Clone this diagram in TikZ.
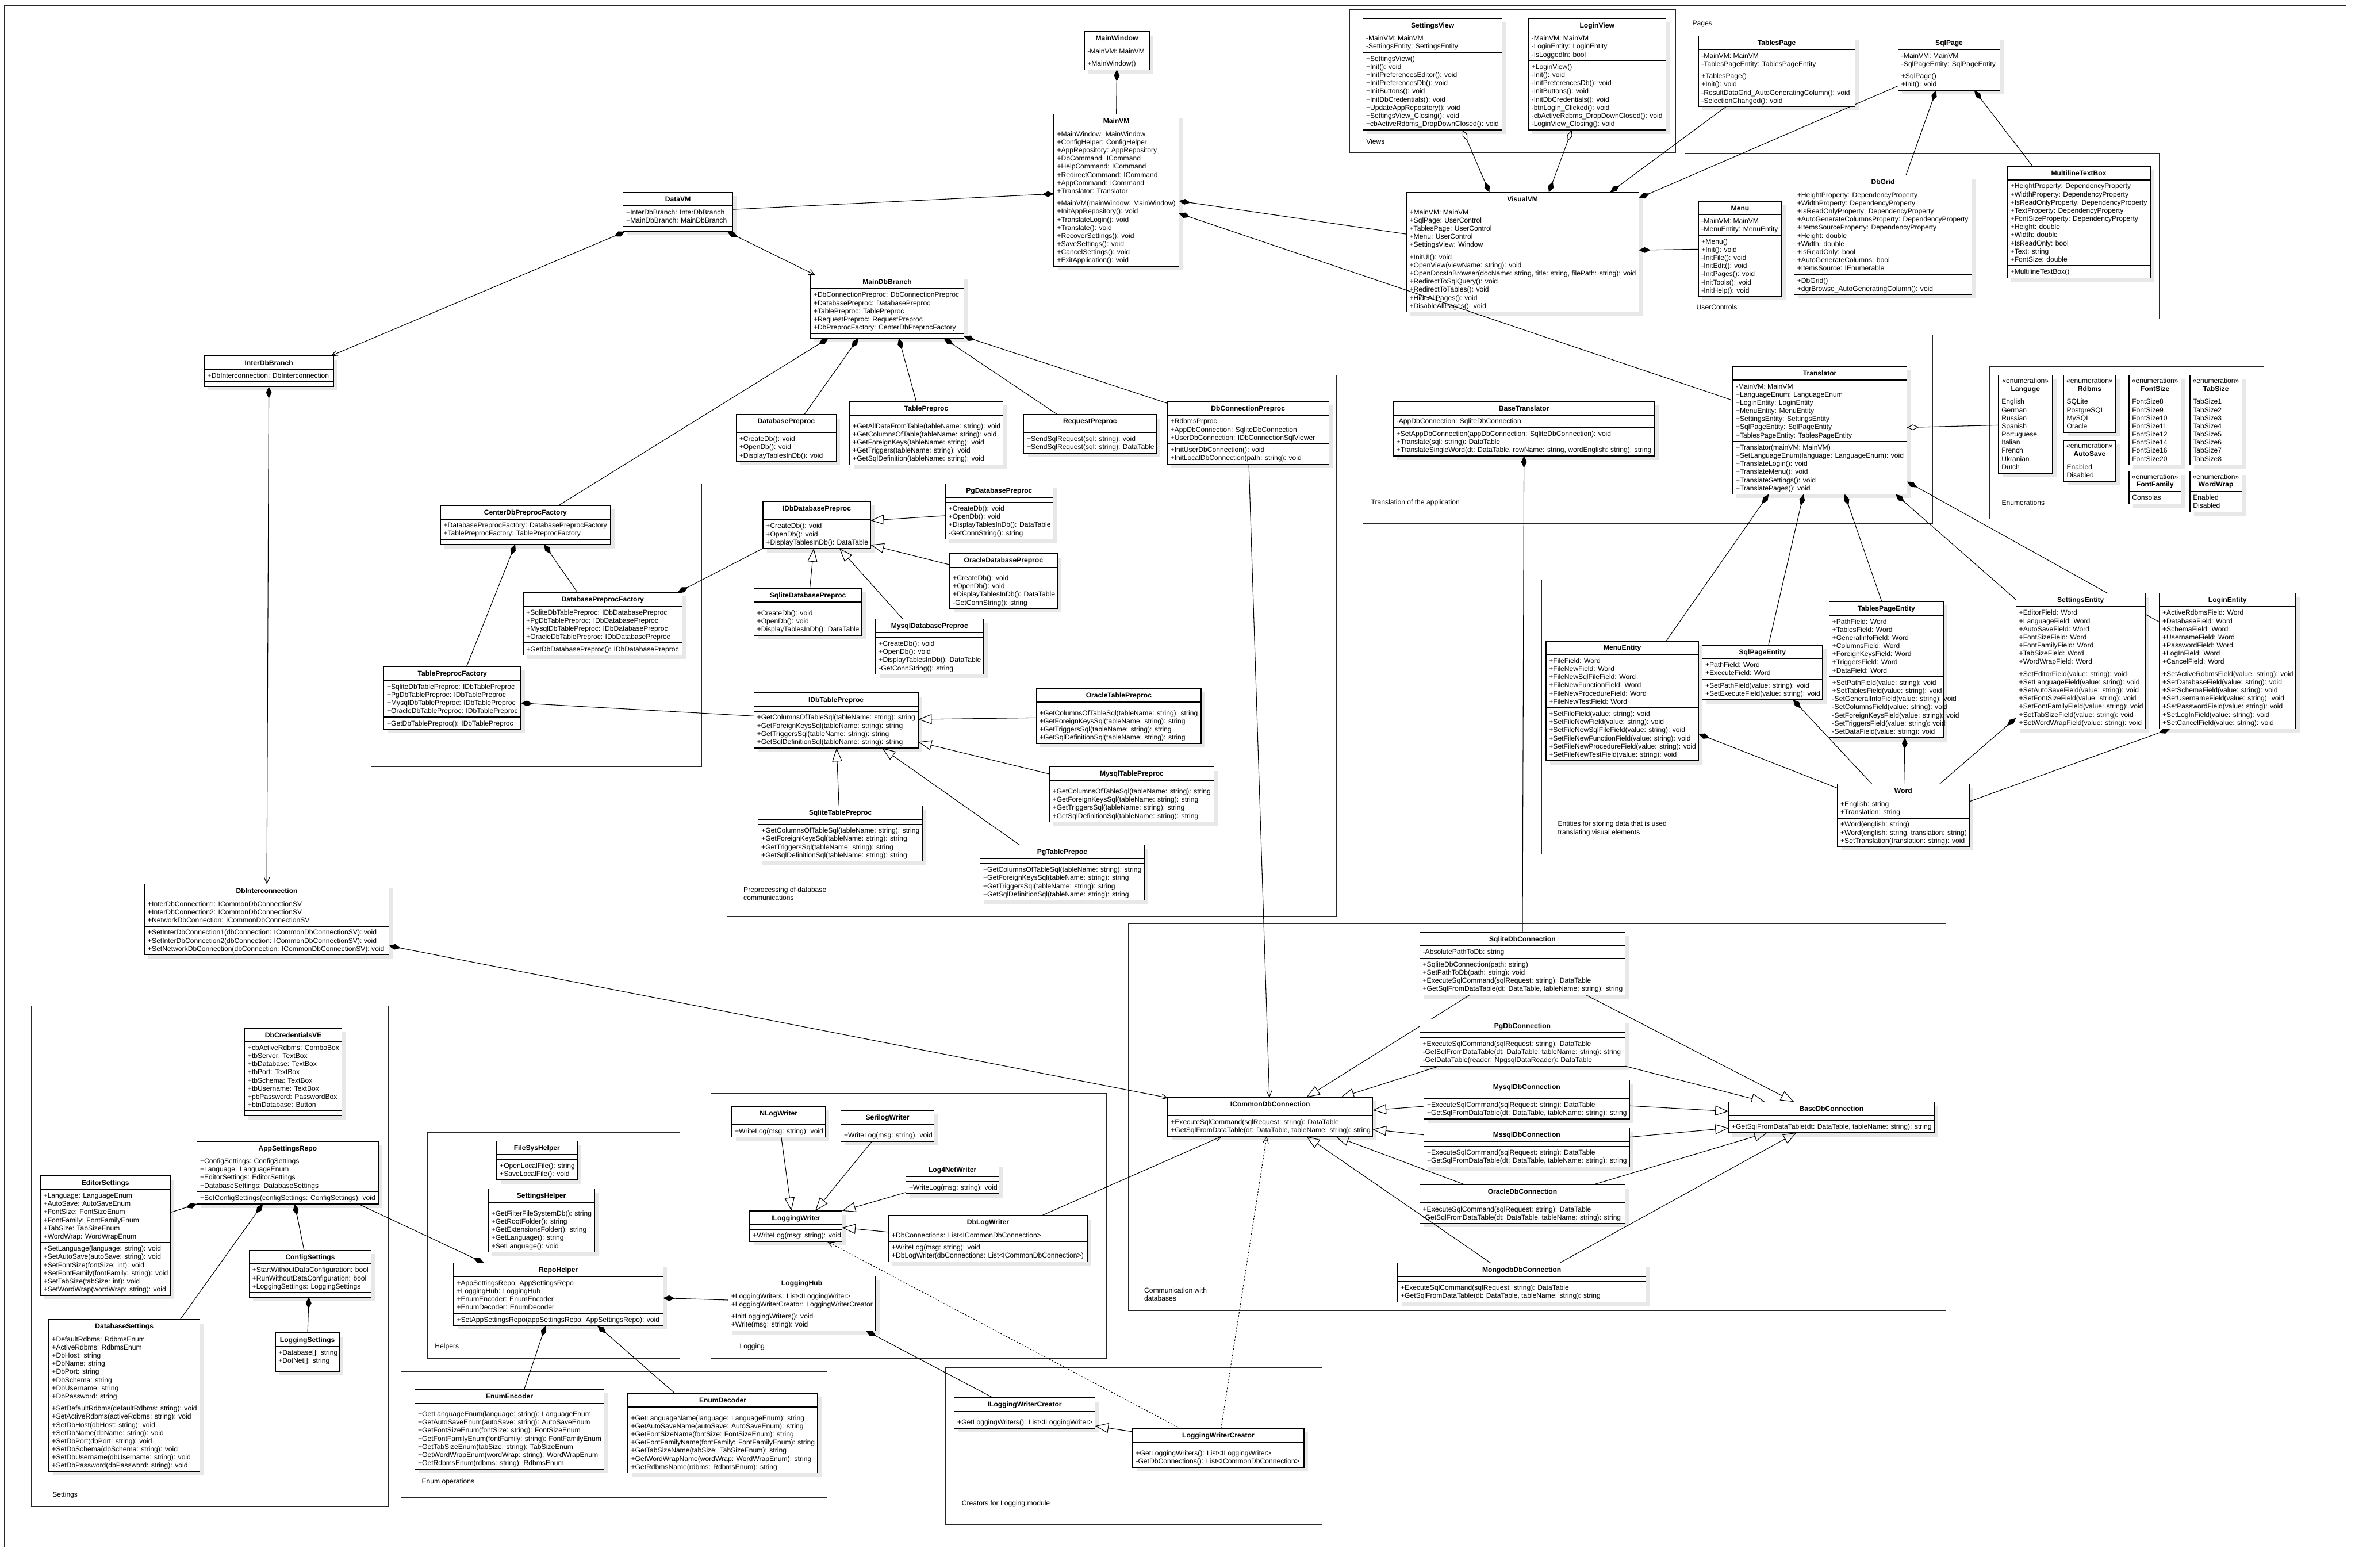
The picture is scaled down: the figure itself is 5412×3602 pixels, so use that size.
\documentclass[tikz,border=0pt]{standalone}
\usepackage{fontspec}
\setmainfont{Liberation Sans}
\usetikzlibrary{arrows.meta,calc}
\pgfdeclarelayer{frames}\pgfdeclarelayer{shadow}\pgfdeclarelayer{lines}\pgfdeclarelayer{fg}
\pgfsetlayers{frames,shadow,lines,main,fg}
\newcommand\clsfont{\fontsize{4.55}{5.32}\selectfont}
\newcommand\clsbold{\fontsize{4.55}{5.32}\selectfont\bfseries}
\tikzset{
  clsbox/.style={draw, line width=0.5pt, fill=white, inner sep=0pt, outer sep=0pt},
  sepline/.style={line width=0.5pt},
  shadowc/.style={fill=black!9},
  clstext/.style={anchor=north west, inner sep=0pt, align=left, font=\clsfont},
  lbl/.style={anchor=west, inner sep=0pt, align=left, font=\clsfont},
  frame/.style={draw=black!85, line width=0.4pt},
  conn/.style={line width=0.4pt},
  comp/.style={conn,-{Diamond[length=7.7pt,width=3.7pt]}},
  compnav/.style={conn,{Straight Barb[length=4pt,width=3.6pt]}-{Diamond[length=7.7pt,width=3.7pt]}},
  aggcomp/.style={conn,{Diamond[open,length=7.7pt,width=3.4pt]}-{Diamond[length=7.7pt,width=3.7pt]}},
  agg/.style={conn,-{Diamond[open,length=7.7pt,width=3.7pt]}},
  inh/.style={conn,-{Triangle[open,length=8.8pt,width=6.5pt]}},
  nav/.style={conn,-{Straight Barb[length=4pt,width=3.6pt]}},
  dep/.style={conn,dash pattern=on 1pt off 1pt,-{Straight Barb[length=4pt,width=3.6pt]}}
}
% #1 name #2 x #3 y #4 width #5 title #6 nAttr #7 attrs #8 nMeth #9 methods
\newcommand\cls[9]{%
  \pgfmathsetmacro\clsA{ifthenelse(#6==0,11,#6*18.7+9.6)}%
  \pgfmathsetmacro\clsM{ifthenelse(#8==0,11,#8*18.7+9.6)}%
  \pgfmathsetmacro\clsH{31.2+\clsA+\clsM}%
  \begin{pgfonlayer}{shadow}\fill[shadowc] (#2+9,#3+9) rectangle ++(#4,\clsH);\end{pgfonlayer}%
  \node[clsbox, minimum width=#4*0.01cm, minimum height=\clsH*0.01cm, anchor=north west] (#1) at (#2,#3) {};%
  \draw[sepline] (#2,#3+31.2) -- ++(#4,0) (#2,#3+31.2+\clsA) -- ++(#4,0);%
  \node[anchor=base, inner sep=0pt, font=\clsbold] at (#2+#4/2,#3+21.3) {#5};%
  \ifnum#6>0 \node[clstext] at (#2+6.5,#3+31.2+6) {\strut #7};\fi
  \ifnum#8>0 \node[clstext] at (#2+6.5,#3+31.2+\clsA+6) {\strut #9};\fi
}
% enumeration: #1 name #2 x #3 y #4 w #5 title #6 n #7 values
\newcommand\enm[7]{%
  \pgfmathsetmacro\clsH{47.2+#6*18.7+9.6}%
  \begin{pgfonlayer}{shadow}\fill[shadowc] (#2+9,#3+9) rectangle ++(#4,\clsH);\end{pgfonlayer}%
  \node[clsbox, minimum width=#4*0.01cm, minimum height=\clsH*0.01cm, anchor=north west] (#1) at (#2,#3) {};%
  \draw[sepline] (#2,#3+47.2) -- ++(#4,0);%
  \node[anchor=base, inner sep=0pt, font=\clsfont] at (#2+#4/2,#3+18.3) {«enumeration»};%
  \node[anchor=base, inner sep=0pt, font=\clsbold] at (#2+#4/2,#3+36.5) {#5};%
  \node[clstext] at (#2+6.5,#3+47.2+5.5) {\strut #7};
}
\begin{document}
\begin{tikzpicture}[x=0.01cm,y=-0.01cm]
\useasboundingbox (0,0) rectangle (5412,3602);
\begin{pgfonlayer}{frames}
\fill[white] (0,0) rectangle (5412,3602);
\draw[frame] (10,12) rectangle (5392,3555);
\draw[frame] (3101.8,22.2) rectangle (3851,350.6);
\draw[frame] (3872.2,32.1) rectangle (4641.7,261.9);
\draw[frame] (3872.2,351.6) rectangle (4962.4,732.4);
\draw[frame] (3132,770) rectangle (4441.6,1202.7);
\draw[frame] (4572.1,842.2) rectangle (5202.8,1192.4);
\draw[frame] (3543,1332.2) rectangle (5292,1962.3);
\draw[frame] (1670.9,862.4) rectangle (3071,2106);
\draw[frame] (852.3,1112) rectangle (1612.5,1761.5);
\draw[frame] (2592.4,2122) rectangle (4471.8,3011.6);
\draw[frame] (72.7,2311.7) rectangle (892.4,3462);
\draw[frame] (982.3,2602.3) rectangle (1562.3,3122);
\draw[frame] (1633.6,2512.5) rectangle (2542.7,3122);
\draw[frame] (921.9,3152) rectangle (1901,3441.4);
\draw[frame] (2172.4,3142.2) rectangle (3038,3503);
\node[lbl] at (3139,325) {Views};
\node[lbl] at (3888.6,55.2) {Pages};
\node[lbl] at (3898,705.5) {UserControls};
\node[lbl] at (3150,1155.7) {Translation of the application};
\node[lbl] at (4599.3,1155.4) {Enumerations};
\node[lbl] at (3579.5,1903.7) {Entities for storing data that is used\\translating visual elements};
\node[lbl] at (1708,2053.6) {Preprocessing of database\\communications};
\node[lbl] at (2628.8,2974) {Communication with\\databases};
\node[lbl] at (119.9,3435.3) {Settings};
\node[lbl] at (998.7,3095.4) {Helpers};
\node[lbl] at (1699.4,3095.4) {Logging};
\node[lbl] at (968.6,3405.7) {Enum operations};
\node[lbl] at (2209.5,3455.7) {Creators for Logging module};
\end{pgfonlayer}

% ---------- top middle
\cls{mainwindow}{2491.7}{72.3}{149.8}{MainWindow}{1}{-MainVM: MainVM}{1}{+MainWindow()}
\cls{mainvm}{2422}{262.4}{287}{MainVM}{8}{+MainWindow: MainWindow\\+ConfigHelper: ConfigHelper\\+AppRepository: AppRepository\\+DbCommand: ICommand\\+HelpCommand: ICommand\\+RedirectCommand: ICommand\\+AppCommand: ICommand\\+Translator: Translator}{8}{+MainVM(mainWindow: MainWindow)\\+InitAppRepository(): void\\+TranslateLogin(): void\\+Translate(): void\\+RecoverSettings(): void\\+SaveSettings(): void\\+CancelSettings(): void\\+ExitApplication(): void}
\cls{datavm}{1431.9}{441.9}{252.2}{DataVM}{2}{+InterDbBranch: InterDbBranch\\+MainDbBranch: MainDbBranch}{0}{}
\cls{maindbbranch}{1862.3}{632}{353}{MainDbBranch}{5}{+DbConnectionPreproc: DbConnectionPreproc\\+DatabasePreproc: DatabasePreproc\\+TablePreproc: TablePreproc\\+RequestPreproc: RequestPreproc\\+DbPreprocFactory: CenterDbPreprocFactory}{0}{}
\cls{interdbbranch}{469.4}{818}{296.9}{InterDbBranch}{1}{+DbInterconnection: DbInterconnection}{0}{}

% ---------- views, pages, user controls
\cls{settingsview}{3132.2}{42.5}{319.8}{SettingsView}{2}{-MainVM: MainVM\\-SettingsEntity: SettingsEntity}{9}{+SettingsView()\\+Init(): void\\+InitPreferencesEditor(): void\\+InitPreferencesDb(): void\\+InitButtons(): void\\+InitDbCredentials(): void\\+UpdateAppRepository(): void\\+SettingsView\_Closing(): void\\+cbActiveRdbms\_DropDownClosed(): void}
\cls{loginview}{3512.3}{42.5}{315.7}{LoginView}{3}{-MainVM: MainVM\\-LoginEntity: LoginEntity\\-IsLoggedIn: bool}{8}{+LoginView()\\-Init(): void\\-InitPreferencesDb(): void\\-InitButtons(): void\\-InitDbCredentials(): void\\-btnLogIn\_Clicked(): void\\-cbActiveRdbms\_DropDownClosed(): void\\-LoginView\_Closing(): void}
\cls{visualvm}{3232.1}{442.2}{533.9}{VisualVM}{5}{+MainVM: MainVM\\+SqlPage: UserControl\\+TablesPage: UserControl\\+Menu: UserControl\\+SettingsView: Window}{7}{+InitUI(): void\\+OpenView(viewName: string): void\\+OpenDocsInBrowser(docName: string, title: string, filePath: string): void\\+RedirectToSqlQuery(): void\\+RedirectToTables(): void\\+HideAllPages(): void\\+DisableAllPages(): void}
\cls{tablespage}{3903}{82.6}{359.7}{TablesPage}{2}{-MainVM: MainVM\\-TablesPageEntity: TablesPageEntity}{4}{+TablesPage()\\+Init(): void\\-ResultDataGrid\_AutoGeneratingColumn(): void\\-SelectionChanged(): void}
\cls{sqlpage}{4362.1}{82.6}{234.2}{SqlPage}{2}{-MainVM: MainVM\\-SqlPageEntity: SqlPageEntity}{2}{+SqlPage()\\+Init(): void}
\cls{menu}{3903}{462.5}{191.8}{Menu}{2}{-MainVM: MainVM\\-MenuEntity: MenuEntity}{7}{+Menu()\\+Init(): void\\-InitFile(): void\\-InitEdit(): void\\-InitPages(): void\\-InitTools(): void\\-InitHelp(): void}
\cls{dbgrid}{4122.9}{402.5}{408.6}{DbGrid}{10}{+HeightProperty: DependencyProperty\\+WidthProperty: DependencyProperty\\+IsReadOnlyProperty: DependencyProperty\\+AutoGenerateColumnsProperty: DependencyProperty\\+ItemsSourceProperty: DependencyProperty\\+Height: double\\+Width: double\\+IsReadOnly: bool\\+AutoGenerateColumns: bool\\+ItemsSource: IEnumerable}{2}{+DbGrid()\\+dgrBrowse\_AutoGeneratingColumn(): void}
\cls{multiline}{4612.9}{382.3}{328.6}{MultilineTextBox}{10}{+HeightProperty: DependencyProperty\\+WidthProperty: DependencyProperty\\+IsReadOnlyProperty: DependencyProperty\\+TextProperty: DependencyProperty\\+FontSizeProperty: DependencyProperty\\+Height: double\\+Width: double\\+IsReadOnly: bool\\+Text: string\\+FontSize: double}{1}{+MultilineTextBox()}

% ---------- translation
\cls{translator}{3981.8}{842.3}{400.4}{Translator}{7}{-MainVM: MainVM\\+LanguageEnum: LanguageEnum\\+LoginEntity: LoginEntity\\+MenuEntity: MenuEntity\\+SettingsEntity: SettingsEntity\\+SqlPageEntity: SqlPageEntity\\+TablesPageEntity: TablesPageEntity}{6}{+Translator(mainVM: MainVM)\\+SetLanguageEnum(language: LanguageEnum): void\\+TranslateLogin(): void\\+TranslateMenu(): void\\+TranslateSettings(): void\\+TranslatePages(): void}
\cls{basetranslator}{3201.8}{922.7}{600.9}{BaseTranslator}{1}{-AppDbConnection: SqliteDbConnection}{3}{+SetAppDbConnection(appDbConnection: SqliteDbConnection): void\\+Translate(sql: string): DataTable\\+TranslateSingleWord(dt: DataTable, rowName: string, wordEnglish: string): string}

% ---------- enumerations
\enm{languge}{4592.5}{862.2}{124.1}{Languge}{9}{English\\German\\Russian\\Spanish\\Portuguese\\Italian\\French\\Ukranian\\Dutch}
\enm{rdbms}{4742.3}{862.2}{119.7}{Rdbms}{4}{SQLite\\PostgreSQL\\MySQL\\Oracle}
\enm{autosave}{4742.3}{1012}{119.7}{AutoSave}{2}{Enabled\\Disabled}
\enm{fontsize}{4892.5}{862.2}{119.8}{FontSize}{8}{FontSize8\\FontSize9\\FontSize10\\FontSize11\\FontSize12\\FontSize14\\FontSize16\\FontSize20}
\enm{tabsize}{5032.6}{862.2}{119.3}{TabSize}{8}{TabSize1\\TabSize2\\TabSize3\\TabSize4\\TabSize5\\TabSize6\\TabSize7\\TabSize8}
\enm{fontfamily}{4892.5}{1082.5}{119.8}{FontFamily}{1}{Consolas}
\enm{wordwrap}{5032.6}{1082.5}{119.3}{WordWrap}{2}{Enabled\\Disabled}

% ---------- entities
\cls{menuentity}{3552.8}{1473}{350.7}{MenuEntity}{6}{+FileField: Word\\+FileNewField: Word\\+FileNewSqlFileField: Word\\+FileNewFunctionField: Word\\+FileNewProcedureField: Word\\+FileNewTestField: Word}{6}{+SetFileField(value: string): void\\+SetFileNewField(value: string): void\\+SetFileNewSqlFileField(value: string): void\\+SetFileNewFunctionField(value: string): void\\+SetFileNewProcedureField(value: string): void\\+SetFileNewTestField(value: string): void}
\cls{sqlpageentity}{3911.8}{1482.6}{276.8}{SqlPageEntity}{2}{+PathField: Word\\+ExecuteField: Word}{2}{+SetPathField(value: string): void\\+SetExecuteField(value: string): void}
\cls{tablespageentity}{4203.3}{1382.7}{263}{TablesPageEntity}{7}{+PathField: Word\\+TablesField: Word\\+GeneralInfoField: Word\\+ColumnsField: Word\\+ForeignKeysField: Word\\+TriggersField: Word\\+DataField: Word}{7}{+SetPathField(value: string): void\\+SetTablesField(value: string): void\\-SetGeneralInfoField(value: string): void\\-SetColumnsField(value: string): void\\-SetForeignKeysField(value: string): void\\-SetTriggersField(value: string): void\\-SetDataField(value: string): void}
\cls{settingsentity}{4632.7}{1362.7}{297.2}{SettingsEntity}{7}{+EditorField: Word\\+LanguageField: Word\\+AutoSaveField: Word\\+FontSizeField: Word\\+FontFamilyField: Word\\+TabSizeField: Word\\+WordWrapField: Word}{7}{+SetEditorField(value: string): void\\+SetLanguageField(value: string): void\\+SetAutoSaveField(value: string): void\\+SetFontSizeField(value: string): void\\+SetFontFamilyField(value: string): void\\+SetTabSizeField(value: string): void\\+SetWordWrapField(value: string): void}
\cls{loginentity}{4962.3}{1362.7}{313.2}{LoginEntity}{7}{+ActiveRdbmsField: Word\\+DatabaseField: Word\\+SchemaField: Word\\+UsernameField: Word\\+PasswordField: Word\\+LogInField: Word\\+CancelField: Word}{7}{+SetActiveRdbmsField(value: string): void\\+SetDatabaseField(value: string): void\\+SetSchemaField(value: string): void\\+SetUsernameField(value: string): void\\+SetPasswordField(value: string): void\\+SetLogInField(value: string): void\\+SetCancelField(value: string): void}
\cls{word}{4222.4}{1801.8}{302.9}{Word}{2}{+English: string\\+Translation: string}{3}{+Word(english: string)\\+Word(english: string, translation: string)\\+SetTranslation(translation: string): void}

% ---------- preprocessing
\cls{databasepreproc}{1691.7}{952.4}{230}{DatabasePreproc}{0}{}{3}{+CreateDb(): void\\+OpenDb(): void\\+DisplayTablesInDb(): void}
\cls{tablepreproc}{1952.5}{922.6}{352.3}{TablePreproc}{0}{}{5}{+GetAllDataFromTable(tableName: string): void\\+GetColumnsOfTable(tableName: string): void\\+GetForeignKeys(tableName: string): void\\+GetTriggers(tableName: string): void\\+GetSqlDefinition(tableName: string): void}
\cls{requestpreproc}{2352.8}{952.4}{304.3}{RequestPreproc}{0}{}{2}{+SendSqlRequest(sql: string): void\\+SendSqlRequest(sql: string): DataTable}
\cls{dbconnpreproc}{2682.5}{922.6}{371.3}{DbConnectionPreproc}{3}{+RdbmsPrproc\\+AppDbConnection: SqliteDbConnection\\+UserDbConnection: IDbConnectionSqlViewer}{2}{+InitUserDbConnection(): void\\+InitLocalDbConnection(path: string): void}
\cls{pgdbpreproc}{2172.6}{1112}{247.2}{PgDatabasePreproc}{0}{}{4}{+CreateDb(): void\\+OpenDb(): void\\+DisplayTablesInDb(): DataTable\\-GetConnString(): string}
\cls{idbdbpreproc}{1753.3}{1152.2}{247.2}{IDbDatabasePreproc}{0}{}{3}{+CreateDb(): void\\+OpenDb(): void\\+DisplayTablesInDb(): DataTable}
\cls{oracledbpreproc}{2182.5}{1272}{247.3}{OracleDatabasePreproc}{0}{}{4}{+CreateDb(): void\\+OpenDb(): void\\+DisplayTablesInDb(): DataTable\\-GetConnString(): string}
\cls{sqlitedbpreproc}{1732.5}{1352}{248.1}{SqliteDatabasePreproc}{0}{}{3}{+CreateDb(): void\\+OpenDb(): void\\+DisplayTablesInDb(): DataTable}
\cls{mysqldbpreproc}{2012.3}{1422.5}{248.1}{MysqlDatabasePreproc}{0}{}{4}{+CreateDb(): void\\+OpenDb(): void\\+DisplayTablesInDb(): DataTable\\-GetConnString(): string}
\cls{idbtablepreproc}{1732.5}{1592.2}{377.6}{IDbTablePreproc}{0}{}{4}{+GetColumnsOfTableSql(tableName: string): string\\+GetForeignKeysSql(tableName: string): string\\+GetTriggersSql(tableName: string): string\\+GetSqlDefinitionSql(tableName: string): string}
\cls{oracletp}{2381.8}{1581.9}{378.5}{OracleTablePreproc}{0}{}{4}{+GetColumnsOfTableSql(tableName: string): string\\+GetForeignKeysSql(tableName: string): string\\+GetTriggersSql(tableName: string): string\\+GetSqlDefinitionSql(tableName: string): string}
\cls{mysqltp}{2411.7}{1762.2}{378.6}{MysqlTablePreproc}{0}{}{4}{+GetColumnsOfTableSql(tableName: string): string\\+GetForeignKeysSql(tableName: string): string\\+GetTriggersSql(tableName: string): string\\+GetSqlDefinitionSql(tableName: string): string}
\cls{sqlitetp}{1742.4}{1852.1}{377.6}{SqliteTablePreproc}{0}{}{4}{+GetColumnsOfTableSql(tableName: string): string\\+GetForeignKeysSql(tableName: string): string\\+GetTriggersSql(tableName: string): string\\+GetSqlDefinitionSql(tableName: string): string}
\cls{pgtp}{2252.3}{1942}{377.7}{PgTablePrepoc}{0}{}{4}{+GetColumnsOfTableSql(tableName: string): string\\+GetForeignKeysSql(tableName: string): string\\+GetTriggersSql(tableName: string): string\\+GetSqlDefinitionSql(tableName: string): string}

% ---------- factories
\cls{centerfactory}{1012.3}{1161.7}{390.5}{CenterDbPreprocFactory}{2}{+DatabasePreprocFactory: DatabasePreprocFactory\\+TablePreprocFactory: TablePreprocFactory}{0}{}
\cls{dbprepfactory}{1202.2}{1361.7}{365.6}{DatabasePreprocFactory}{4}{+SqliteDbTablePreproc: IDbDatabasePreproc\\+PgDbTablePreproc: IDbDatabasePreproc\\+MysqlDbTablePreproc: IDbDatabasePreproc\\+OracleDbTablePreproc: IDbDatabasePreproc}{1}{+GetDbDatabasePreproc(): IDbDatabasePreproc}
\cls{tableprepfactory}{882.1}{1532.1}{315.1}{TablePreprocFactory}{4}{+SqliteDbTablePreproc: IDbTablePreproc\\+PgDbTablePreproc: IDbTablePreproc\\+MysqlDbTablePreproc: IDbTablePreproc\\+OracleDbTablePreproc: IDbTablePreproc}{1}{+GetDbTablePreproc(): IDbTablePreproc}
\cls{dbinterconnection}{332.5}{2031.6}{561.3}{DbInterconnection}{3}{+InterDbConnection1: ICommonDbConnectionSV\\+InterDbConnection2: ICommonDbConnectionSV\\+NetworkDbConnection: ICommonDbConnectionSV}{3}{+SetInterDbConnection1(dbConnection: ICommonDbConnectionSV): void\\+SetInterDbConnection2(dbConnection: ICommonDbConnectionSV): void\\+SetNetworkDbConnection(dbConnection: ICommonDbConnectionSV): void}

% ---------- communication
\cls{sqlitedbconn}{3262.5}{2142.3}{472.5}{SqliteDbConnection}{1}{-AbsolutePathToDb: string}{4}{+SqliteDbConnection(path: string)\\+SetPathToDb(path: string): void\\+ExecuteSqlCommand(sqlRequest: string): DataTable\\+GetSqlFromDataTable(dt: DataTable, tableName: string): string}
\cls{pgdbconn}{3262.5}{2342}{472.5}{PgDbConnection}{0}{}{3}{+ExecuteSqlCommand(sqlRequest: string): DataTable\\-GetSqlFromDataTable(dt: DataTable, tableName: string): string\\-GetDataTable(reader: NpgsqlDataReader): DataTable}
\cls{mysqldbconn}{3272.2}{2482.2}{472.5}{MysqlDbConnection}{0}{}{2}{+ExecuteSqlCommand(sqlRequest: string): DataTable\\+GetSqlFromDataTable(dt: DataTable, tableName: string): string}
\cls{mssqldbconn}{3272.2}{2591.9}{472.5}{MssqlDbConnection}{0}{}{2}{+ExecuteSqlCommand(sqlRequest: string): DataTable\\+GetSqlFromDataTable(dt: DataTable, tableName: string): string}
\cls{oracledbconn}{3262.5}{2722}{472.5}{OracleDbConnection}{0}{}{2}{+ExecuteSqlCommand(sqlRequest: string): DataTable\\-GetSqlFromDataTable(dt: DataTable, tableName: string): string}
\cls{mongodbconn}{3211.6}{2902.5}{570.7}{MongodbDbConnection}{0}{}{2}{+ExecuteSqlCommand(sqlRequest: string): DataTable\\+GetSqlFromDataTable(dt: DataTable, tableName: string): string}
\cls{icommon}{2683.3}{2521.8}{471.3}{ICommonDbConnection}{0}{}{2}{+ExecuteSqlCommand(sqlRequest: string): DataTable\\+GetSqlFromDataTable(dt: DataTable, tableName: string): string}
\cls{basedbconn}{3972.5}{2532}{472.5}{BaseDbConnection}{0}{}{1}{+GetSqlFromDataTable(dt: DataTable, tableName: string): string}

% ---------- settings
\cls{dbcredentials}{562.2}{2362.3}{223.4}{DbCredentialsVE}{8}{+cbActiveRdbms: ComboBox\\+tbServer: TextBox\\+tbDatabase: TextBox\\+tbPort: TextBox\\+tbSchema: TextBox\\+tbUsername: TextBox\\+pbPassword: PasswordBox\\+btnDatabase: Button}{0}{}
\cls{appsettingsrepo}{452.7}{2622.7}{416.9}{AppSettingsRepo}{4}{+ConfigSettings: ConfigSettings\\+Language: LanguageEnum\\+EditorSettings: EditorSettings\\+DatabaseSettings: DatabaseSettings}{1}{+SetConfigSettings(configSettings: ConfigSettings): void}
\cls{editorsettings}{92.8}{2701.9}{298.7}{EditorSettings}{6}{+Language: LanguageEnum\\+AutoSave: AutoSaveEnum\\+FontSize: FontSizeEnum\\+FontFamily: FontFamilyEnum\\+TabSize: TabSizeEnum\\+WordWrap: WordWrapEnum}{6}{+SetLanguage(language: string): void\\+SetAutoSave(autoSave: string): void\\+SetFontSize(fontSize: int): void\\+SetFontFamily(fontFamily: string): void\\+SetTabSize(tabSize: int): void\\+SetWordWrap(wordWrap: string): void}
\cls{configsettings}{572.5}{2872.8}{280.8}{ConfigSettings}{3}{+StartWithoutDataConfiguration: bool\\+RunWithoutDataConfiguration: bool\\+LoggingSettings: LoggingSettings}{0}{}
\cls{loggingsettings}{632.7}{3062.7}{147.4}{LoggingSettings}{2}{+Database[]: string\\+DotNet[]: string}{0}{}
\cls{databasesettings}{112.3}{3031.9}{346.9}{DatabaseSettings}{8}{+DefaultRdbms: RdbmsEnum\\+ActiveRdbms: RdbmsEnum\\+DbHost: string\\+DbName: string\\+DbPort: string\\+DbSchema: string\\+DbUsername: string\\+DbPassword: string}{8}{+SetDefaultRdbms(defaultRdbms: string): void\\+SetActiveRdbms(activeRdbms: string): void\\+SetDbHost(dbHost: string): void\\+SetDbName(dbName: string): void\\+SetDbPort(dbPort: string): void\\+SetDbSchema(dbSchema: string): void\\+SetDbUsername(dbUsername: string): void\\+SetDbPassword(dbPassword: string): void}

% ---------- helpers
\cls{filesyshelper}{1141.3}{2621.8}{185.1}{FileSysHelper}{0}{}{2}{+OpenLocalFile(): string\\+SaveLocalFile(): void}
\cls{settingshelper}{1122.1}{2731.7}{244.1}{SettingsHelper}{0}{}{5}{+GetFilterFileSystemDb(): string\\+GetRootFolder(): string\\+GetExtensionsFolder(): string\\+GetLanguage(): string\\+SetLanguage(): void}
\cls{repohelper}{1042.6}{2902.2}{481.3}{RepoHelper}{4}{+AppSettingsRepo: AppSettingsRepo\\+LoggingHub: LoggingHub\\+EnumEncoder: EnumEncoder\\+EnumDecoder: EnumDecoder}{1}{+SetAppSettingsRepo(appSettingsRepo: AppSettingsRepo): void}

% ---------- logging
\cls{nlogwriter}{1681.6}{2542.4}{215.3}{NLogWriter}{0}{}{1}{+WriteLog(msg: string): void}
\cls{serilogwriter}{1932.5}{2552.2}{213.9}{SerilogWriter}{0}{}{1}{+WriteLog(msg: string): void}
\cls{log4netwriter}{2081.9}{2672.5}{214}{Log4NetWriter}{0}{}{1}{+WriteLog(msg: string): void}
\cls{iloggingwriter}{1722.7}{2782.5}{212.5}{ILoggingWriter}{0}{}{1}{+WriteLog(msg: string): void}
\cls{dblogwriter}{2042.2}{2792.9}{456.6}{DbLogWriter}{1}{+DbConnections: List<ICommonDbConnection>}{2}{+WriteLog(msg: string): void\\+DbLogWriter(dbConnections: List<ICommonDbConnection>)}
\cls{logginghub}{1673.3}{2932.7}{338.7}{LoggingHub}{2}{+LoggingWriters: List<ILoggingWriter>\\+LoggingWriterCreator: LoggingWriterCreator}{2}{+InitLoggingWriters(): void\\+Write(msg: string): void}

% ---------- enum operations
\cls{enumencoder}{953.5}{3193}{434.6}{EnumEncoder}{0}{}{7}{+GetLanguageEnum(language: string): LanguageEnum\\+GetAutoSaveEnum(autoSave: string): AutoSaveEnum\\+GetFontSizeEnum(fontSize: string): FontSizeEnum\\+GetFontFamilyEnum(fontFamily: string): FontFamilyEnum\\+GetTabSizeEnum(tabSize: string): TabSizeEnum\\+GetWordWrapEnum(wordWrap: string): WordWrapEnum\\+GetRdbmsEnum(rdbms: string): RdbmsEnum}
\cls{enumdecoder}{1443}{3202}{436}{EnumDecoder}{0}{}{7}{+GetLanguageName(language: LanguageEnum): string\\+GetAutoSaveName(autoSave: AutoSaveEnum): string\\+GetFontSizeName(fontSize: FontSizeEnum): string\\+GetFontFamilyName(fontFamily: FontFamilyEnum): string\\+GetTabSizeName(tabSize: TabSizeEnum): string\\+GetWordWrapName(wordWrap: WordWrapEnum): string\\+GetRdbmsName(rdbms: RdbmsEnum): string}

% ---------- creators
\cls{ilwc}{2193}{3211.8}{323.6}{ILoggingWriterCreator}{0}{}{1}{+GetLoggingWriters(): List<ILoggingWriter>}
\cls{lwc}{2603}{3282.7}{393.6}{LoggingWriterCreator}{0}{}{2}{+GetLoggingWriters(): List<ILoggingWriter>\\-GetDbConnections(): List<ICommonDbConnection>}

% ================= connectors
\begin{pgfonlayer}{lines}
\draw[comp] (mainvm.north) -- (mainwindow.south);
\draw[comp] ($(datavm.north west)+(252.2,39.3)$) -- ($(mainvm.north west)+(0,183)$);
\draw[comp] ($(visualvm.north west)+(0,95.8)$) -- ($(mainvm.north west)+(287,199.4)$);
\draw[compnav] ($(interdbbranch.north west)+(290.6,0)$) -- ($(datavm.north west)+(4,90.6)$);
\draw[compnav] ($(maindbbranch.north west)+(11.2,0)$) -- ($(datavm.north west)+(239.3,90.6)$);
\draw[comp] ($(centerfactory.north west)+(271.1,0)$) -- ($(maindbbranch.north west)+(41.4,145.3)$);
\draw[comp] ($(databasepreproc.north west)+(156.7,0)$) -- ($(maindbbranch.north west)+(110.2,145.3)$);
\draw[comp] ($(tablepreproc.north west)+(153.1,0)$) -- ($(maindbbranch.north west)+(203.2,145.3)$);
\draw[comp] ($(requestpreproc.north west)+(77,0)$) -- ($(maindbbranch.north west)+(306.5,145.3)$);
\draw[comp] ($(dbconnpreproc.north west)+(0,4.1)$) -- ($(maindbbranch.north west)+(353,141)$);
\draw[compnav] (dbinterconnection.north) -- (interdbbranch.south);
\draw[compnav] ($(icommon.north west)+(1,1)$) -- ($(dbinterconnection.north west)+(561.3,141.7)$);
\draw[nav] ($(dbconnpreproc.north west)+(187.4,143.9)$) -- ($(icommon.north west)+(233.9,0)$);
\draw[comp] (sqlitedbconn.north) -- (basetranslator.south);
\draw[agg] ($(languge.north west)+(0,114.8)$) -- ($(translator.north west)+(400.4,140)$);
\draw[comp] ($(menuentity.north west)+(276.2,0)$) -- ($(translator.north west)+(82.7,293.5)$);
\draw[comp] ($(sqlpageentity.north west)+(152.2,0)$) -- ($(translator.north west)+(162.7,293.5)$);
\draw[comp] ($(tablespageentity.north west)+(121.2,0)$) -- ($(translator.north west)+(257.4,293.5)$);
\draw[comp] ($(settingsentity.north west)+(0,15)$) -- ($(translator.north west)+(374.5,293.5)$);
\draw[comp] ($(loginentity.north west)+(0,66.6)$) -- ($(translator.north west)+(400.4,264.4)$);
\draw[aggcomp] ($(settingsview.north west)+(229.1,256.1)$) -- ($(visualvm.north west)+(190.6,0)$);
\draw[aggcomp] ($(loginview.north west)+(99.9,256.1)$) -- ($(visualvm.north west)+(327.2,0)$);
\draw[comp] ($(tablespage.north west)+(63.5,162.6)$) -- ($(visualvm.north west)+(467.9,0)$);
\draw[comp] ($(sqlpage.north west)+(0,114.7)$) -- ($(visualvm.north west)+(533.9,13.2)$);
\draw[comp] ($(menu.north west)+(0,110)$) -- ($(visualvm.north west)+(533.9,132.6)$);
\draw[comp] ($(dbgrid.north west)+(257.2,0)$) -- ($(sqlpage.north west)+(87.2,125.2)$);
\draw[comp] ($(multiline.north west)+(58.4,0)$) -- ($(sqlpage.north west)+(175.1,125.2)$);
\draw[comp] ($(word.north west)+(0,9.2)$) -- ($(menuentity.north west)+(350.7,213.5)$);
\draw[comp] ($(word.north west)+(79.6,0)$) -- ($(sqlpageentity.north west)+(208.6,125.2)$);
\draw[comp] ($(word.north west)+(153.1,0)$) -- ($(tablespageentity.north west)+(174.1,312.2)$);
\draw[comp] ($(word.north west)+(234.6,0)$) -- ($(settingsentity.north west)+(0,287.3)$);
\draw[comp] ($(word.north west)+(302.9,40.2)$) -- ($(loginentity.north west)+(24.3,312.2)$);
\draw[comp] ($(idbdbpreproc.north west)+(0,107.9)$) -- ($(dbprepfactory.north west)+(354.8,0)$);
\draw[comp] ($(tableprepfactory.north west)+(189.9,0)$) -- ($(centerfactory.north west)+(171.7,89.2)$);
\draw[comp] ($(dbprepfactory.north west)+(125.2,0)$) -- ($(centerfactory.north west)+(238,89.2)$);
\draw[comp] ($(idbtablepreproc.north west)+(0,53.2)$) -- ($(tableprepfactory.north west)+(315.1,83.5)$);
\draw[inh] ($(pgdbpreproc.north west)+(0,73)$) -- ($(idbdbpreproc.north west)+(247.2,43.8)$);
\draw[inh] ($(oracledbpreproc.north west)+(0,25.8)$) -- ($(idbdbpreproc.north west)+(247.2,99.8)$);
\draw[inh] ($(sqlitedbpreproc.north west)+(128.5,0)$) -- ($(idbdbpreproc.north west)+(116.7,107.9)$);
\draw[inh] ($(mysqldbpreproc.north west)+(62.5,0)$) -- ($(idbdbpreproc.north west)+(175.7,107.9)$);
\draw[inh] ($(oracletp.north west)+(0,67.4)$) -- ($(idbtablepreproc.north west)+(377.6,60.8)$);
\draw[inh] ($(mysqltp.north west)+(0,16.4)$) -- ($(idbtablepreproc.north west)+(377.6,112.8)$);
\draw[inh] ($(sqlitetp.north west)+(185.6,0)$) -- ($(idbtablepreproc.north west)+(190.1,126.6)$);
\draw[inh] ($(pgtp.north west)+(91.4,0)$) -- ($(idbtablepreproc.north west)+(294.3,126.6)$);
\draw[inh] ($(sqlitedbconn.north west)+(115.1,143.9)$) -- ($(icommon.north west)+(318.7,0)$);
\draw[inh] ($(sqlitedbconn.north west)+(381.7,143.9)$) -- ($(basedbconn.north west)+(150.3,0)$);
\draw[inh] ($(pgdbconn.north west)+(44.8,107.9)$) -- ($(icommon.north west)+(397.4,0)$);
\draw[inh] ($(pgdbconn.north west)+(472.5,107.9)$) -- ($(basedbconn.north west)+(83.5,0)$);
\draw[inh] ($(mysqldbconn.north west)+(0,60)$) -- ($(icommon.north west)+(471.3,29.3)$);
\draw[inh] ($(mysqldbconn.north west)+(472.5,58.8)$) -- ($(basedbconn.north west)+(0,21.7)$);
\draw[inh] ($(mssqldbconn.north west)+(0,16)$) -- ($(icommon.north west)+(471.3,73.3)$);
\draw[inh] ($(mssqldbconn.north west)+(472.5,21.1)$) -- ($(basedbconn.north west)+(0,60)$);
\draw[inh] ($(oracledbconn.north west)+(103,0)$) -- ($(icommon.north west)+(385.3,89.2)$);
\draw[inh] ($(oracledbconn.north west)+(399.8,0)$) -- ($(basedbconn.north west)+(89.7,70.4)$);
\draw[inh] ($(mongodbconn.north west)+(372,0)$) -- ($(basedbconn.north west)+(156.3,70.4)$);
\draw[dep] ($(lwc.north west)+(203,0)$) -- ($(icommon.north west)+(227.7,89.2)$);
\draw[nav] ($(dblogwriter.north west)+(352.4,0)$) -- ($(icommon.north west)+(124.7,89.2)$);
\draw[dep] ($(lwc.north west)+(109.7,0)$) -- ($(iloggingwriter.north west)+(178.3,70.5)$);
\draw[inh] ($(lwc.north west)+(0,7.2)$) -- ($(ilwc.north west)+(323.6,65)$);
\draw[comp] ($(ilwc.north west)+(89,0)$) -- ($(logginghub.north west)+(316.7,125.2)$);
\draw[comp] ($(logginghub.north west)+(0,54.7)$) -- ($(repohelper.north west)+(481.3,80.6)$);
\draw[comp] ($(enumencoder.north west)+(250.9,0)$) -- ($(repohelper.north west)+(211.2,143.9)$);
\draw[comp] ($(enumdecoder.north west)+(108.3,0)$) -- ($(repohelper.north west)+(330.4,143.9)$);
\draw[comp] ($(appsettingsrepo.north west)+(370.8,143.9)$) -- ($(repohelper.north west)+(69.9,0)$);
\draw[comp] ($(editorsettings.north west)+(298.7,84.3)$) -- ($(appsettingsrepo.north west)+(0,143.9)$);
\draw[comp] ($(databasesettings.north west)+(301.9,0)$) -- ($(appsettingsrepo.north west)+(151.3,143.9)$);
\draw[comp] ($(configsettings.north west)+(126.3,0)$) -- ($(appsettingsrepo.north west)+(224.5,143.9)$);
\draw[comp] ($(loggingsettings.north west)+(74.3,0)$) -- ($(configsettings.north west)+(137.2,107.9)$);
\draw[inh] ($(nlogwriter.north west)+(113.8,70.5)$) -- ($(iloggingwriter.north west)+(96,0)$);
\draw[inh] ($(serilogwriter.north west)+(71.3,70.5)$) -- ($(iloggingwriter.north west)+(150.8,0)$);
\draw[inh] ($(log4netwriter.north west)+(0,67.5)$) -- ($(iloggingwriter.north west)+(212.5,0)$);
\draw[inh] ($(dblogwriter.north west)+(0,38.4)$) -- ($(iloggingwriter.north west)+(212.5,38.4)$);
\end{pgfonlayer}
\begin{pgfonlayer}{fg}
\draw[comp] ($(translator.north west)+(0,77.7)$) -- ($(mainvm.north west)+(287,227.8)$);
\draw[inh] ($(mongodbconn.north west)+(214.4,0)$) -- ($(icommon.north west)+(318.7,89.2)$);
\end{pgfonlayer}
\end{tikzpicture}
\end{document}
